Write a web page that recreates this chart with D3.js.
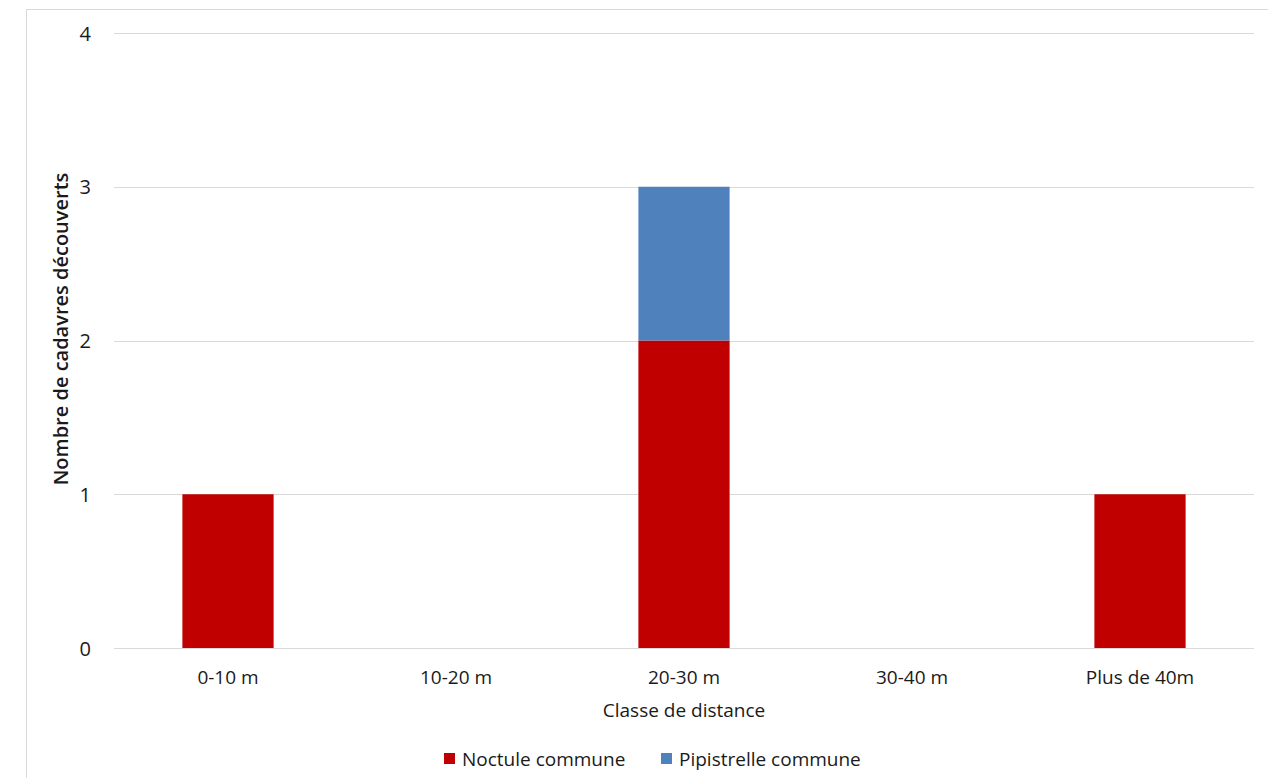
<!DOCTYPE html>
<html><head><meta charset="utf-8">
<script src="https://cdn.jsdelivr.net/npm/d3@7"></script>
<style>body{margin:0;background:#fff}svg{display:block}text{font-family:"Open Sans",sans-serif;fill:#1a1a1a}</style>
</head><body>
<script>
const categories = ["0-10 m","10-20 m","20-30 m","30-40 m","Plus de 40m"];
const seriesNames = ["Noctule commune","Pipistrelle commune"];
const noctule = [1,0,2,0,1];
const pipistrelle = [0,0,1,0,0];
const yTicks = [0,1,2,3,4];
const colors = ["#C00000","#4F81BD"];

const W=1268,H=778;
const svg=d3.select("body").append("svg").attr("width",W).attr("height",H);
svg.append("rect").attr("x",26.5).attr("y",9.5).attr("width",W).attr("height",H).attr("fill","#fff").attr("stroke","#D9D9D9");

const x=d3.scaleBand().domain(categories).range([114,1254]).paddingInner(0.6).paddingOuter(0.3);
const y=d3.scaleLinear().domain([0,4]).range([648,33]);

const grid=svg.append("g");
grid.selectAll("line").data(yTicks).join("line")
 .attr("x1",114).attr("x2",1254).attr("y1",d=>Math.round(y(d))+0.5).attr("y2",d=>Math.round(y(d))+0.5)
 .attr("stroke","#D9D9D9").attr("stroke-width",1);

const data=categories.map((c,i)=>({cat:c,Noctule:noctule[i],Pipistrelle:pipistrelle[i]}));
const stack=d3.stack().keys(["Noctule","Pipistrelle"])(data);
svg.append("g").selectAll("g").data(stack).join("g").attr("fill",(d,i)=>colors[i])
 .selectAll("rect").data(d=>d).join("rect")
 .attr("x",d=>x(d.data.cat)).attr("width",x.bandwidth())
 .attr("y",d=>y(d[1])).attr("height",d=>y(d[0])-y(d[1]));

const yAxis=d3.axisLeft(y).tickValues(yTicks).tickSize(0).tickPadding(0).tickFormat(d3.format("d"));
const ya=svg.append("g").attr("transform","translate(91,0)").call(yAxis);
ya.select(".domain").remove();
ya.selectAll("text").style("font-size","20px").attr("dy","0.35em");

const xAxis=d3.axisBottom(x).tickSize(0).tickPadding(0);
const xa=svg.append("g").attr("transform","translate(0,670)").call(xAxis);
xa.select(".domain").remove();
xa.selectAll("text").style("font-size","19px");

svg.append("text").attr("x",684).attr("y",717).attr("text-anchor","middle").style("font-size","19px").text("Classe de distance");
svg.append("text").attr("transform","translate(68,329) rotate(-90)").attr("text-anchor","middle").style("font-size","20px").style("font-weight","600").text("Nombre de cadavres découverts");

const leg=[{n:seriesNames[0],c:colors[0],x:444},{n:seriesNames[1],c:colors[1],x:661}];
const lg=svg.append("g");
lg.selectAll("rect").data(leg).join("rect").attr("x",d=>d.x).attr("y",753).attr("width",11).attr("height",11).attr("fill",d=>d.c);
lg.selectAll("text").data(leg).join("text").attr("x",d=>d.x+18).attr("y",766).style("font-size","19px").text(d=>d.n);
</script>
</body></html>
